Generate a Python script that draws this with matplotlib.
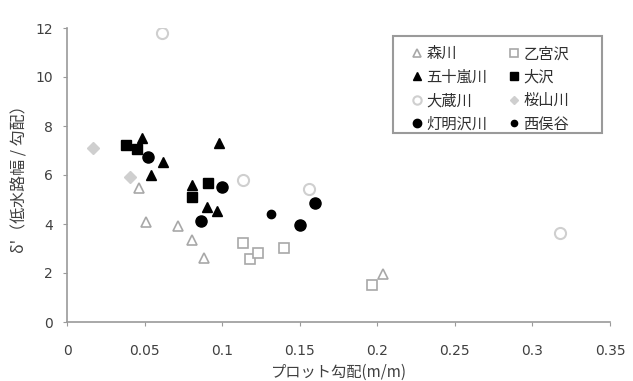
import matplotlib
matplotlib.use("Agg")
import matplotlib.pyplot as plt
from matplotlib.patches import Rectangle

plt.rcParams['font.family'] = ['Noto Sans CJK JP', 'DejaVu Sans']

# Series: (slope, delta') pairs per river
morikawa_x = [0.0466, 0.0509, 0.0718, 0.0804, 0.0885, 0.2035]
morikawa_y = [5.46, 4.09, 3.92, 3.35, 2.60, 1.97]

otomiyasawa_x = [0.1137, 0.1180, 0.1233, 0.1400, 0.1965]
otomiyasawa_y = [3.21, 2.56, 2.83, 3.03, 1.51]

igarashi_x = [0.0482, 0.0621, 0.0540, 0.0980, 0.0804, 0.0905, 0.0969]
igarashi_y = [7.50, 6.54, 6.00, 7.29, 5.59, 4.68, 4.54]

osawa_x = [0.0380, 0.0449, 0.0804, 0.0911]
osawa_y = [7.22, 7.05, 5.11, 5.66]

okura_x = [0.0610, 0.1137, 0.1560, 0.3180]
okura_y = [11.78, 5.80, 5.42, 3.62]

sakurayama_x = [0.0166, 0.0406]
sakurayama_y = [7.09, 5.93]

tomyozawa_x = [0.0524, 0.0997, 0.0864, 0.1600, 0.1500]
tomyozawa_y = [6.72, 5.52, 4.13, 4.84, 3.96]

nishimata_x = [0.1313]
nishimata_y = [4.41]

x_ticks = [0, 0.05, 0.1, 0.15, 0.2, 0.25, 0.3, 0.35]
x_tick_labels = ['0', '0.05', '0.1', '0.15', '0.2', '0.25', '0.3', '0.35']
y_ticks = [0, 2, 4, 6, 8, 10, 12]

W, H = 633, 381
fig = plt.figure(figsize=(W / 100, H / 100), dpi=100)
ax = fig.add_axes([67 / W, 1 - 322 / H, (610 - 67) / W, (322 - 28) / H])

gray = '#a8a8a8'
light = '#cfcfcf'

h = {}
h['森川'] = ax.plot(morikawa_x, morikawa_y, ls='none', marker='^', ms=7,
                  mfc='white', mec=gray, mew=1.2)[0]
h['乙宮沢'] = ax.plot(otomiyasawa_x, otomiyasawa_y, ls='none', marker='s', ms=7,
                   mfc='white', mec=gray, mew=1.2)[0]
h['五十嵐川'] = ax.plot(igarashi_x, igarashi_y, ls='none', marker='^', ms=7,
                    mfc='black', mec='black')[0]
h['大沢'] = ax.plot(osawa_x, osawa_y, ls='none', marker='s', ms=7,
                  mfc='black', mec='black')[0]
h['大蔵川'] = ax.plot(okura_x, okura_y, ls='none', marker='o', ms=8,
                   mfc='white', mec=light, mew=1.5)[0]
h['桜山川'] = ax.plot(sakurayama_x, sakurayama_y, ls='none', marker='D', ms=6,
                   mfc=light, mec=light)[0]
h['灯明沢川'] = ax.plot(tomyozawa_x, tomyozawa_y, ls='none', marker='o', ms=8,
                    mfc='black', mec='black')[0]
h['西俣谷'] = ax.plot(nishimata_x, nishimata_y, ls='none', marker='o', ms=6,
                   mfc='black', mec='black')[0]

ax.set_xlim(0, 0.35)
ax.set_ylim(0, 12)
ax.set_xticks(x_ticks)
ax.set_xticklabels(x_tick_labels)
ax.set_yticks(y_ticks)

for s in ['top', 'right']:
    ax.spines[s].set_visible(False)
for s in ['left', 'bottom']:
    ax.spines[s].set_color('#9a9a9a')
    ax.spines[s].set_linewidth(1.2)
ax.tick_params(axis='both', colors='#9a9a9a', labelcolor='#404040',
               labelsize=10, length=3, direction='out')
ax.tick_params(axis='x', pad=13)
ax.tick_params(axis='y', pad=7)
for lab in ax.get_xticklabels() + ax.get_yticklabels():
    lab.set_fontfamily('DejaVu Sans')

ax.set_xlabel('プロット勾配(m/m)', fontsize=11, color='#404040', labelpad=4)
ax.set_ylabel("δ'（低水路幅 / 勾配）", fontsize=11.5, color='#404040', labelpad=5)

# Legend box drawn separately so it can carry extra room on the right
fig.patches.append(Rectangle((393 / W, 1 - 133 / H), (602 - 393) / W, (133 - 36) / H,
                             transform=fig.transFigure, facecolor='white',
                             edgecolor='#9a9a9a', linewidth=1.5, zorder=5))

order = ['森川', '五十嵐川', '大蔵川', '灯明沢川', '乙宮沢', '大沢', '桜山川', '西俣谷']
leg = fig.legend([h[k] for k in order], order, ncol=2, loc='upper left',
                 bbox_to_anchor=(398 / W, 1 - 33 / H),
                 bbox_transform=fig.transFigure, fontsize=11,
                 frameon=False, borderpad=0.3,
                 handletextpad=0.15, columnspacing=1.3, labelspacing=0.42,
                 handlelength=0.9, markerscale=0.75)
leg.set_zorder(6)
for t in leg.get_texts():
    t.set_color('#303030')

fig.savefig('out.png', dpi=100)
